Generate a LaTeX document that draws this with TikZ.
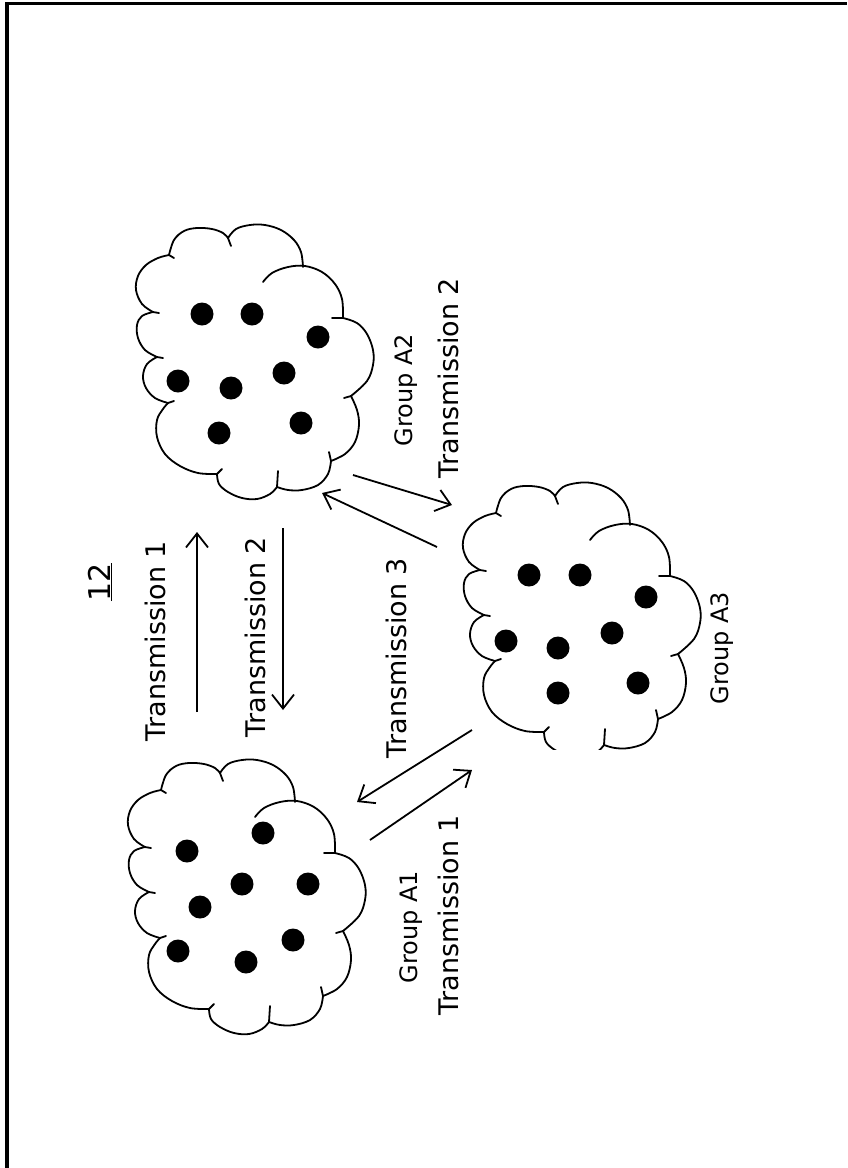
\documentclass[tikz,border=0pt]{standalone}
\usepackage{fontspec}
\setmainfont{DejaVu Sans}
\usetikzlibrary{arrows.meta}

\tikzset{
  cloudline/.style={line width=1.8pt, line join=round, line cap=round},
  blob/.style={circle, fill=black, inner sep=0pt, minimum size=23pt},
  link/.style={line width=1.8pt, -{Straight Barb[length=14pt, width=22pt, line width=1.8pt]}},
  tlabel/.style={rotate=90, anchor=base, inner sep=0pt, font=\fontsize{27}{30}\selectfont},
  glabel/.style={rotate=90, anchor=base, inner sep=0pt, font=\fontsize{24}{28}\selectfont},
  frame/.style={line width=3.5pt},
}

% outline of one cloud, given in the frame of the upper cloud
\newcommand\cloudoutline{%
  \draw[cloudline] plot[smooth, tension=0.6] coordinates {(169,255) (174,240) (184,231) (197,228) (212,229) (223,233) (228,238)};
  \draw[cloudline] plot[smooth, tension=0.6] coordinates {(228,238) (236,229) (250,225) (265,225) (281,230) (294,240) (301,252) (303,267)};
  \draw[cloudline] plot[smooth, tension=0.6] coordinates {(263,282) (272,273) (288,267) (305,266) (322,272) (335,284) (342,299) (343,318)};
  \draw[cloudline] plot[smooth, tension=0.6] coordinates {(343,318) (357,323) (367,334) (373,350) (373,365) (367,381) (351,396)};
  \draw[cloudline] plot[smooth, tension=0.6] coordinates {(351,396) (357,410) (359,425) (355,442) (345,454) (331,461)};
  \draw[cloudline] plot[smooth, tension=0.6] coordinates {(331,461) (328,474) (318,485) (302,490) (288,490) (277,487)};
  \draw[cloudline] plot[smooth, tension=0.6] coordinates {(277,487) (270,494) (257,499) (242,498) (228,492) (219,484) (217,474)};
  \draw[cloudline] plot[smooth, tension=0.6] coordinates {(217,474) (198,473) (180,466) (165,454) (157,437) (157,420) (163,409) (168,403)};
  \draw[cloudline] plot[smooth, tension=0.6] coordinates {(168,403) (155,398) (146,388) (143,376) (147,364) (157,357)};
  \draw[cloudline] plot[smooth, tension=0.6] coordinates {(157,357) (145,350) (138,338) (137,325) (142,316) (153,312)};
  \draw[cloudline] plot[smooth, tension=0.6] coordinates {(153,312) (142,304) (136,290) (138,276) (146,265) (158,258) (169,255)};
  % short strokes where the puffs meet
  \draw[cloudline] (228,238) -- (231,246);
  \draw[cloudline] (343,318) -- (332,318);
  \draw[cloudline] (351,396) -- (344,398);
  \draw[cloudline] (331,461) -- (329,452);
  \draw[cloudline] (277,487) -- (278,471);
  \draw[cloudline] (217,474) -- (222,469);
  \draw[cloudline] (168,403) -- (174,401);
  \draw[cloudline] (157,357) -- (163,358);
  \draw[cloudline] (153,312) -- (159,313);
  \draw[cloudline] (169,255) -- (174,258);
}

\begin{document}
\begin{tikzpicture}[x=1pt, y=-1pt]
\useasboundingbox (0,0) rectangle (847,1168);

% sheet edge
\draw[frame] (7,1168) -- (7,3.5) -- (847,3.5);

% figure number
\node[rotate=90, inner sep=0pt, font=\fontsize{30}{34}\selectfont] (fig) at (100,582) {\underline{12}};

% group A2 (upper cloud)
\begin{scope}
  \cloudoutline
\end{scope}
\foreach \p [count=\i] in {(202,314),(252,314),(318,337),(178,381),(231,388),(284,373),(219,433),(301,423)}
  \node[blob] (a2d\i) at \p {};

% group A1 (lower cloud)
\begin{scope}[shift={(-8,535)}]
  \cloudoutline
\end{scope}
\foreach \p [count=\i] in {(187,851),(263,833),(242,884),(308,884),(200,907),(293,940),(178,951),(246,962)}
  \node[blob] (a1d\i) at \p {};

% group A3 (right cloud)
\begin{scope}
  \clip (400,400) rectangle (800,749);
  \begin{scope}[shift={(327,258)}]
    \cloudoutline
  \end{scope}
\end{scope}
\foreach \p [count=\i] in {(529,575),(580,575),(646,597),(506,641),(558,648),(612,633),(558,693),(638,683)}
  \node[blob] (a3d\i) at \p {};

% arrow end points
\coordinate (t1s) at (197,712); \coordinate (t1e) at (197,532);
\coordinate (t2s) at (283,528); \coordinate (t2e) at (283,710);
\coordinate (t3s) at (437,547); \coordinate (t3e) at (322,493);
\coordinate (u2s) at (353,475); \coordinate (u2e) at (452,505);
\coordinate (v3s) at (472,730); \coordinate (v3e) at (357,802);
\coordinate (v1s) at (370,840); \coordinate (v1e) at (472,770);

\draw[link] (t1s) -- (t1e);
\draw[link] (t2s) -- (t2e);
\draw[link] (t3s) -- (t3e);
\draw[link] (u2s) -- (u2e);
\draw[link] (v3s) -- (v3e);
\draw[link] (v1s) -- (v1e);

% labels
\node[tlabel] (lt1) at (165,641) {Transmission 1};
\node[tlabel] (lt2) at (265,637) {Transmission 2};
\node[tlabel] (lt3) at (406,658) {Transmission 3};
\node[glabel] (ga2) at (412,390) {Group A2};
\node[tlabel] (lu2) at (458,378) {Transmission 2};
\node[glabel] (ga1) at (417,927) {Group A1};
\node[tlabel] (lv1) at (458,915) {Transmission 1};
\node[glabel] (ga3) at (728,648) {Group A3};
\end{tikzpicture}
\end{document}
